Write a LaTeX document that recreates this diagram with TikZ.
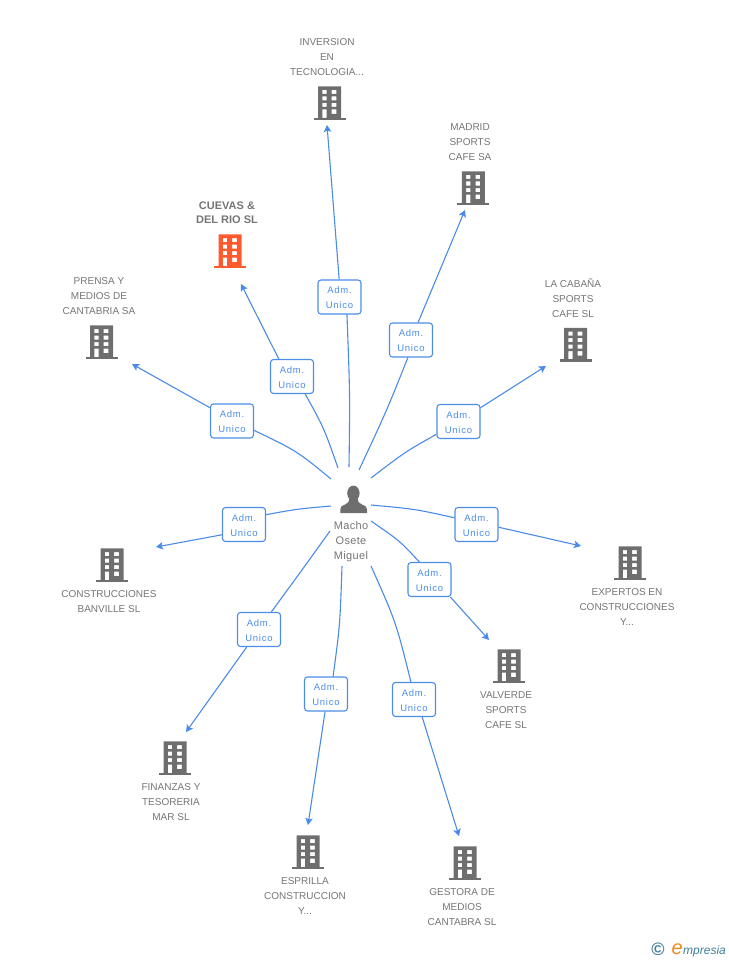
\documentclass[tikz,border=0pt]{standalone}
\usepackage{fontspec}
\setmainfont{Liberation Sans}
\usetikzlibrary{arrows.meta}
\definecolor{icongray}{HTML}{6E6E6E}
\definecolor{textgray}{HTML}{757575}
\definecolor{linkblue}{HTML}{4A8BE6}
\definecolor{boxblue}{HTML}{4C8DEA}
\definecolor{hot}{HTML}{FF5A2D}
\definecolor{logoteal}{HTML}{3F7F9A}
\definecolor{logoorange}{HTML}{F08A1D}
\newfontfamily\spaced[LetterSpace=8]{Liberation Sans}
\newfontfamily\spacedm[LetterSpace=3]{Liberation Sans}
\tikzset{
  x=1pt,y=-1pt,
  role/.style={draw=boxblue,line width=1.1pt,fill=white,rounded corners=3pt,minimum width=43pt,minimum height=34pt,inner sep=0pt,align=center,text=boxblue,font=\spaced\fontsize{9.5}{15}\selectfont},
  company/.style={align=center,inner sep=0pt,text=textgray,font=\fontsize{10}{15}\selectfont},
  hotcompany/.style={align=center,inner sep=0pt,text=textgray,font=\bfseries\fontsize{11}{14}\selectfont},
  person/.style={align=center,inner sep=0pt,text=textgray,font=\spacedm\fontsize{11}{15}\selectfont},
  lead/.style={draw=linkblue,line width=1.1pt},
  leadarrow/.style={lead,-{Stealth[length=7pt,width=7.5pt,inset=1.5pt]}},
  pics/bldg/.style={code={
    \fill[#1,even odd rule]
      (-11.5,-16.6) rectangle (11.5,15)
      (-7.2,-13) rectangle (-3,-9)
      (2.2,-13) rectangle (6.8,-9)
      (-7.2,-6.5) rectangle (-3,-2.5)
      (2.2,-6.5) rectangle (6.8,-2.5)
      (-7.2,0) rectangle (-3,4)
      (2.2,0) rectangle (6.8,4)
      (-7.2,6.5) rectangle (-3,15)
      (2.2,6.5) rectangle (6.8,11);
    \fill[#1] (-16,14.8) rectangle (16,17.2);
  }}
}
\begin{document}
\begin{tikzpicture}
\useasboundingbox (0,0) rectangle (728,960);
% buildings
\pic at (329.5,103) {bldg=icongray};
\pic at (473.3,188) {bldg=icongray};
\pic at (575.5,344.5) {bldg=icongray};
\pic at (630,563) {bldg=icongray};
\pic at (509,666) {bldg=icongray};
\pic at (465,863) {bldg=icongray};
\pic at (308,852) {bldg=icongray};
\pic at (175,758) {bldg=icongray};
\pic at (112,565) {bldg=icongray};
\pic at (101.5,342) {bldg=icongray};
\pic at (230,251) {bldg=hot};
% person icon
\fill[icongray] (353.4,493.2) ellipse (6.2 and 7.6);
\fill[icongray] (340.3,513) -- (340.3,509) .. controls (340.5,506.5) and (342,505.5) .. (345,504.5)
  .. controls (347.5,503.5) and (349,502.5) .. (349.3,498) -- (357.5,498)
  .. controls (358,502.5) and (359.5,503.5) .. (362,504.5)
  .. controls (365,505.5) and (366.7,506.5) .. (367,509) -- (367,513) -- cycle;
% texts
\node[company] (n1) at (327,57) {INVERSION\\EN\\TECNOLOGIA...};
\node[company] (n2) at (470,142) {MADRID\\SPORTS\\CAFE SA};
\node[company] (n3) at (573,298) {LA CABAÑA\\SPORTS\\CAFE SL};
\node[company] (n4) at (627,607) {EXPERTOS EN\\CONSTRUCCIONES\\Y...};
\node[company] (n5) at (506,710) {VALVERDE\\SPORTS\\CAFE SL};
\node[company] (n6) at (462,907) {GESTORA DE\\MEDIOS\\CANTABRA SL};
\node[company] (n7) at (305,896) {ESPRILLA\\CONSTRUCCION\\Y...};
\node[company] (n8) at (171,802) {FINANZAS Y\\TESORERIA\\MAR SL};
\node[company] (n9) at (109,601.5) {CONSTRUCCIONES\\BANVILLE SL};
\node[company] (n10) at (99,296) {PRENSA Y\\MEDIOS DE\\CANTABRIA SA};
\node[hotcompany] (n11) at (227,212.5) {CUEVAS \&\\DEL RIO SL};
\node[person] (p) at (351,542) {Macho\\Osete\\Miguel};
% role boxes
\node[role] (b1) at (339.5,297) {\rule{0pt}{9pt}Adm.\\Unico};
\node[role] (b2) at (411,340) {\rule{0pt}{9pt}Adm.\\Unico};
\node[role] (b3) at (458.5,421.5) {\rule{0pt}{9pt}Adm.\\Unico};
\node[role] (b4) at (476.5,524.5) {\rule{0pt}{9pt}Adm.\\Unico};
\node[role] (b5) at (429.5,579.5) {\rule{0pt}{9pt}Adm.\\Unico};
\node[role] (b6) at (414,699.5) {\rule{0pt}{9pt}Adm.\\Unico};
\node[role] (b7) at (326,694) {\rule{0pt}{9pt}Adm.\\Unico};
\node[role] (b8) at (259,629.5) {\rule{0pt}{9pt}Adm.\\Unico};
\node[role] (b9) at (244,524.5) {\rule{0pt}{9pt}Adm.\\Unico};
\node[role] (b10) at (232,421) {\rule{0pt}{9pt}Adm.\\Unico};
\node[role] (b11) at (292,376.5) {\rule{0pt}{9pt}Adm.\\Unico};
% free ends
\coordinate (s1) at (349,467); \coordinate (t1) at (327,125);
\coordinate (s2) at (359,470); \coordinate (t2) at (465,210);
\coordinate (s3) at (371,478); \coordinate (t3) at (546,366);
\coordinate (s4) at (371,505); \coordinate (t4) at (581,546);
\coordinate (s5) at (371,521); \coordinate (t5) at (489,640);
\coordinate (s6) at (371,566); \coordinate (t6) at (459,836);
\coordinate (s7) at (342,566); \coordinate (t7) at (308,825);
\coordinate (s8) at (330,531); \coordinate (t8) at (186,732);
\coordinate (s9) at (331,506); \coordinate (t9) at (156,547);
\coordinate (s10) at (331,479); \coordinate (t10) at (132,364);
\coordinate (s11) at (338,468); \coordinate (t11) at (241,284);
% connectors
\draw[lead] (s1) .. controls (350,395) .. (b1.-67);
\draw[leadarrow] (b1.91) -- (t1);
\draw[lead] (s2) .. controls (387,410) .. (b2.-100);
\draw[leadarrow] (b2.68) -- (t2);
\draw[lead] (s3) .. controls (405,452) .. (b3.210);
\draw[leadarrow] (b3.32) -- (t3);
\draw[lead] (s4) .. controls (415,509) .. (b4.163);
\draw[leadarrow] (b4.-7) -- (t4);
\draw[lead] (s5) .. controls (400,541) .. (b5.120);
\draw[leadarrow] (b5.-40) -- (t5);
\draw[lead] (s6) .. controls (396,622) .. (b6.100);
\draw[leadarrow] (b6.-65) -- (t6);
\draw[lead] (s7) .. controls (340,625) .. (b7.68);
\draw[leadarrow] (b7.-93) -- (t7);
\draw[lead] (s8) .. controls (302,570) .. (b8.55);
\draw[leadarrow] (b8.-125) -- (t8);
\draw[lead] (s9) .. controls (297,509) .. (b9.24);
\draw[leadarrow] (b9.205) -- (t9);
\draw[lead] (s10) .. controls (297,451) .. (b10.-23);
\draw[leadarrow] (b10.149) -- (t10);
\draw[lead] (s11) .. controls (324,428) .. (b11.-53);
\draw[leadarrow] (b11.127) -- (t11);
% logo
\node[inner sep=0pt,text=logoteal,font=\bfseries\fontsize{18}{18}\selectfont] (c) at (658,949) {©};
\node[inner sep=0pt,anchor=base west,text=logoorange,font=\itshape\fontsize{20}{20}\selectfont] (e) at (671.5,954.5) {e};
\node[inner sep=0pt,anchor=base west,text=logoteal,font=\itshape\fontsize{12}{12}\selectfont] (m) at (683,954) {mpresia};
\end{tikzpicture}
\end{document}
